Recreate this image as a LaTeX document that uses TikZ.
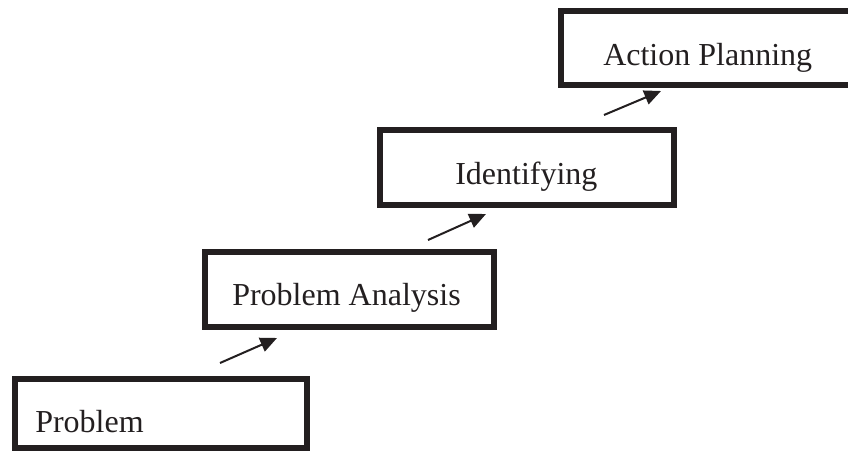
\documentclass[tikz,border=0pt]{standalone}
\usepackage{fontspec}
\setmainfont{Liberation Serif}
\usetikzlibrary{arrows.meta}
\definecolor{ink}{HTML}{231F20}
\begin{document}
\begin{tikzpicture}[x=0.75pt,y=-0.75pt,
  stepbox/.style={draw=ink, line width=4.9pt, rectangle, inner sep=0pt, outer sep=0pt},
  label/.style={anchor=base west, inner sep=0pt, text=ink, font=\fontsize{24}{28}\selectfont},
  conn/.style={draw=ink, line width=1.5pt, -{Triangle[length=12.5pt,width=11pt]}}]
\useasboundingbox (0,0) rectangle (848,452);
\clip (0,0) rectangle (848,452);
% boxes (centre-line geometry)
\node[stepbox, minimum width=292*0.75pt, minimum height=69*0.75pt] (b1) at (161,413.5) {};
\node[stepbox, minimum width=289*0.75pt, minimum height=75*0.75pt] (b2) at (349.5,289.5) {};
\node[stepbox, minimum width=294*0.75pt, minimum height=75*0.75pt] (b3) at (527,167.5) {};
\node[stepbox, minimum width=310*0.75pt, minimum height=74*0.75pt] (b4) at (716,48) {};
% labels
\node[label] (t1) at (35,432) {Problem};
\node[label] (t2) at (232,305) {Problem Analysis};
\node[label] (t3) at (455,185) {Identifying};
\node[label] (t4) at (603,66) {Action Planning};
% connector end points
\coordinate (a1s) at (220,363);
\coordinate (a1e) at (277,338);
\coordinate (a2s) at (428,240);
\coordinate (a2e) at (486,214);
\coordinate (a3s) at (604,115);
\coordinate (a3e) at (661,91);
\draw[conn] (a1s) -- (a1e);
\draw[conn] (a2s) -- (a2e);
\draw[conn] (a3s) -- (a3e);
\end{tikzpicture}
\end{document}
